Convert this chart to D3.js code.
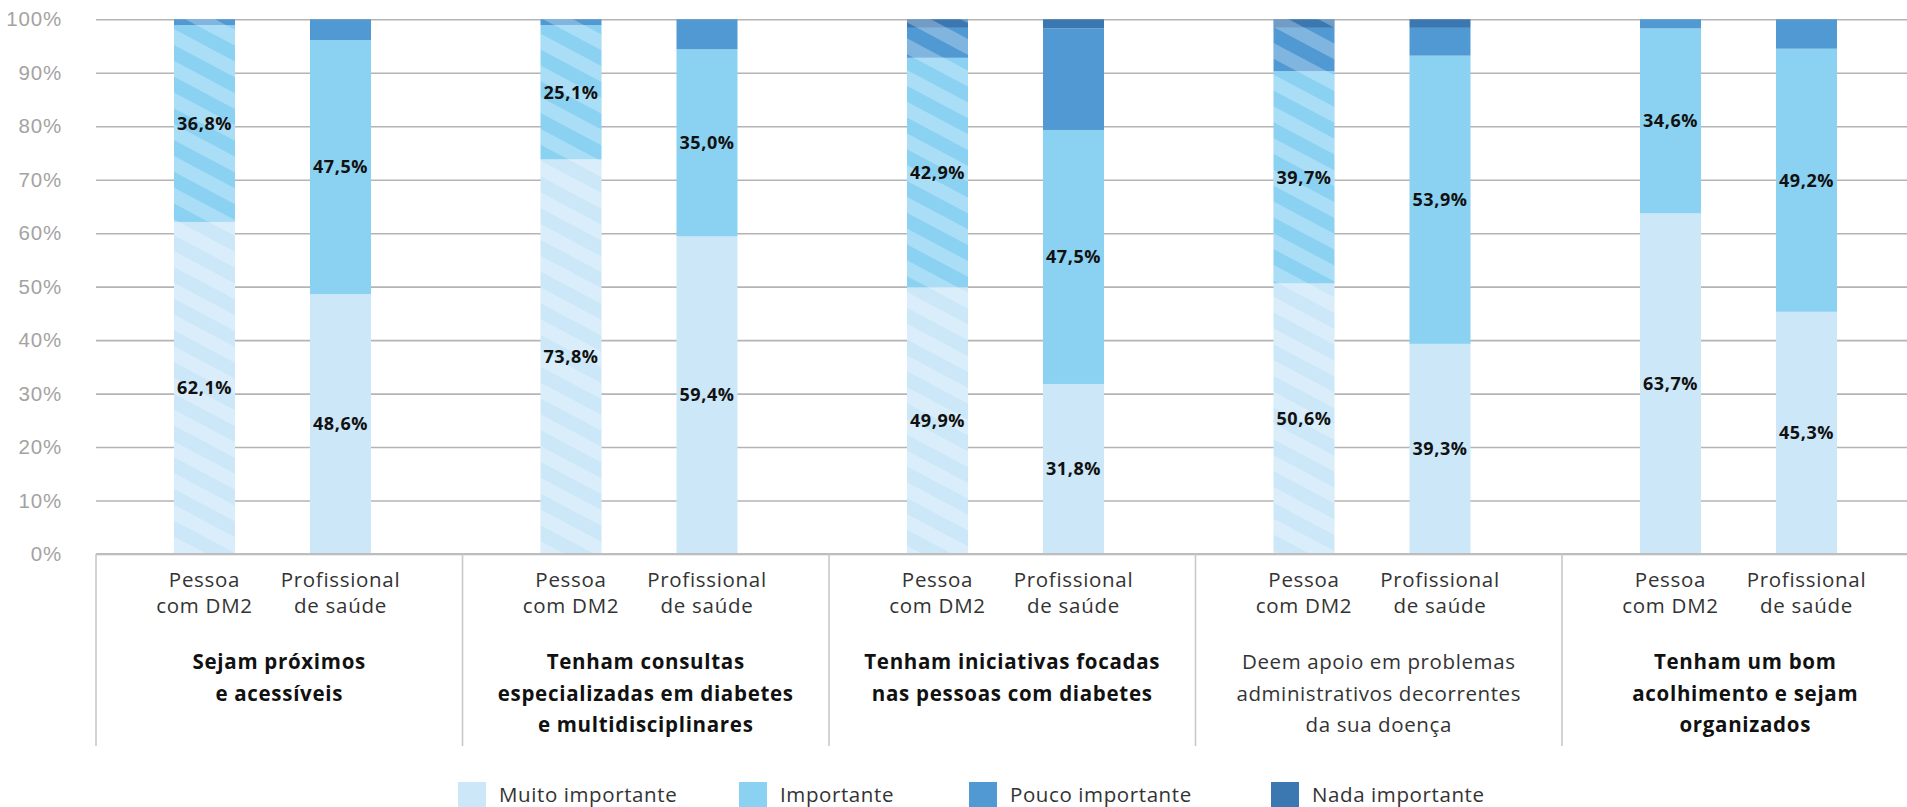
<!DOCTYPE html>
<html lang="pt">
<head>
<meta charset="utf-8">
<script src="https://cdn.jsdelivr.net/npm/d3@7"></script>
<style>
  html, body { margin: 0; padding: 0; background: #fff; overflow: hidden; }
  svg { display: block; font-family: "Open Sans", "Noto Sans", sans-serif; }
</style>
</head>
<body>
<svg id="chart" width="1907" height="807"></svg>
<script>
// Service characteristics (each entry is the lines of a multi-line title)
const groupTitles = [
  ["Sejam próximos", "e acessíveis"],
  ["Tenham consultas", "especializadas em diabetes", "e multidisciplinares"],
  ["Tenham iniciativas focadas", "nas pessoas com diabetes"],
  ["Deem apoio em problemas", "administrativos decorrentes", "da sua doença"],
  ["Tenham um bom", "acolhimento e sejam", "organizados"]
];
const groupBold = [true, true, true, false, true];

// Respondent types
const respondents = [["Pessoa", "com DM2"], ["Profissional", "de saúde"]];

// Importance levels (stack order, bottom to top)
const levels = ["Muito importante", "Importante", "Pouco importante", "Nada importante"];

// Values in %, ordered group by group: [Pessoa, Profissional, Pessoa, Profissional, ...]
const muitoImportante = [62.1, 48.6, 73.8, 59.4, 49.9, 31.8, 50.6, 39.3, 63.7, 45.3];
const importante      = [36.8, 47.5, 25.1, 35.0, 42.9, 47.5, 39.7, 53.9, 34.6, 49.2];
const poucoImportante = [1.1, 3.9, 1.1, 5.6, 5.6, 19.0, 8.1, 5.2, 1.7, 5.5];
const nadaImportante  = [0.0, 0.0, 0.0, 0.0, 1.6, 1.7, 1.6, 1.6, 0.0, 0.0];

const yTicks = [0, 10, 20, 30, 40, 50, 60, 70, 80, 90, 100];

// ---- styling ----
const colors = ["#cce7f8", "#8bd1f2", "#5199d3", "#3b77b0"];
const labelledLevels = new Set(["Muito importante", "Importante"]);
// Patient bars carry the diagonal stripe, except in the last group
const hatchedGroups = new Set([0, 1, 2, 3]);

const svg = d3.select("#chart");
const W = 1907;

const groupWidth = 366.5;
const plotLeft = 96;
const groupIdx = d3.range(groupTitles.length);

const x0 = d3.scaleBand()
  .domain(groupIdx)
  .range([plotLeft, plotLeft + groupWidth * groupIdx.length])
  .padding(0);

// Bar centre within a group
const x1 = d3.scalePoint()
  .domain([0, 1])
  .range([108.5, 244.5]);

const barWidth = 61;

const y = d3.scaleLinear().domain([0, 100]).range([554, 19.3]);

// Stripe pattern
const defs = svg.append("defs");
const pat = defs.append("pattern")
  .attr("id", "hatch")
  .attr("patternUnits", "userSpaceOnUse")
  .attr("width", 40)
  .attr("height", 28)
  .attr("patternTransform", "rotate(28)");
pat.append("rect")
  .attr("x", 0).attr("y", 0)
  .attr("width", 40).attr("height", 14)
  .attr("fill", "#fff")
  .attr("fill-opacity", 0.27);

// Gridlines and y labels
const yAxis = d3.axisLeft(y)
  .tickValues(yTicks)
  .tickSize(-(W - plotLeft))
  .tickPadding(34)
  .tickFormat(d => d + "%");

const gy = svg.append("g")
  .attr("transform", `translate(${plotLeft},0)`)
  .call(yAxis);
gy.select(".domain").remove();
gy.selectAll(".tick line")
  .attr("stroke", "#b4b4b4")
  .attr("stroke-width", 1.6);
gy.selectAll(".tick text")
  .attr("fill", "#a3a3a3")
  .attr("font-size", 20.5)
  .attr("font-weight", 300)
  .attr("letter-spacing", 0.8);

// Build rows
const series = [muitoImportante, importante, poucoImportante, nadaImportante];
const rows = [];
groupIdx.forEach(g => {
  [0, 1].forEach(r => {
    const i = g * 2 + r;
    const row = { g, r };
    levels.forEach((lv, k) => { row[lv] = series[k][i]; });
    rows.push(row);
  });
});

const stacked = d3.stack().keys(levels)(rows);

const barX = d => x0(d.data.g) + x1(d.data.r) - barWidth / 2;

const layers = svg.append("g").selectAll("g")
  .data(stacked)
  .join("g")
  .attr("fill", (d, i) => colors[i]);

layers.selectAll("rect")
  .data(d => d)
  .join("rect")
  .attr("x", barX)
  .attr("width", barWidth)
  .attr("y", d => y(d[1]))
  .attr("height", d => Math.max(0, y(d[0]) - y(d[1])));

// Stripe overlay on the patient bars
svg.append("g").selectAll("rect")
  .data(rows.filter(d => d.r === 0 && hatchedGroups.has(d.g)))
  .join("rect")
  .attr("x", d => x0(d.g) + x1(d.r) - barWidth / 2)
  .attr("width", barWidth)
  .attr("y", y(100))
  .attr("height", y(0) - y(100))
  .attr("fill", "url(#hatch)");

// Value labels
const fmt = v => v.toFixed(1).replace(".", ",") + "%";
const labelG = svg.append("g");
stacked.forEach(layer => {
  if (!labelledLevels.has(layer.key)) return;
  layer.forEach(d => {
    labelG.append("text")
      .attr("x", x0(d.data.g) + x1(d.data.r))
      .attr("y", y((d[0] + d[1]) / 2))
      .attr("dy", "0.35em")
      .attr("text-anchor", "middle")
      .attr("font-size", 18)
      .attr("font-weight", 700)
      .attr("letter-spacing", 0.6)
      .attr("fill", "#111")
      .text(fmt(d.data[layer.key]));
  });
});

// Baseline and group separators
svg.append("line")
  .attr("x1", plotLeft).attr("x2", W)
  .attr("y1", y(0)).attr("y2", y(0))
  .attr("stroke", "#bdbdbd").attr("stroke-width", 2);

svg.append("g").selectAll("line")
  .data(groupIdx)
  .join("line")
  .attr("x1", g => x0(g)).attr("x2", g => x0(g))
  .attr("y1", y(0)).attr("y2", 746)
  .attr("stroke", "#c8c8c8").attr("stroke-width", 1.6);

// Respondent labels under each bar
const subG = svg.append("g");
groupIdx.forEach(g => {
  respondents.forEach((lines, r) => {
    const t = subG.append("text")
      .attr("text-anchor", "middle")
      .attr("font-size", 20.5)
      .attr("fill", "#333")
      .attr("letter-spacing", 0.7);
    lines.forEach((ln, k) => {
      t.append("tspan")
        .attr("x", x0(g) + x1(r))
        .attr("y", 587 + k * 26)
        .text(ln);
    });
  });
});

// Group titles
const titleG = svg.append("g");
groupIdx.forEach(g => {
  const t = titleG.append("text")
    .attr("text-anchor", "middle")
    .attr("font-size", 20.5)
    .attr("font-weight", groupBold[g] ? 700 : 400)
    .attr("fill", groupBold[g] ? "#111" : "#333")
    .attr("letter-spacing", groupBold[g] ? 0.7 : 0.6);
  groupTitles[g].forEach((ln, k) => {
    t.append("tspan")
      .attr("x", x0(g) + x0.bandwidth() / 2)
      .attr("y", 669 + k * 31.5)
      .text(ln);
  });
});

// Legend
const legendX = [458, 739, 969, 1271];
const leg = svg.append("g").selectAll("g")
  .data(levels)
  .join("g")
  .attr("transform", (d, i) => `translate(${legendX[i]},782)`);
leg.append("rect")
  .attr("width", 28).attr("height", 28)
  .attr("fill", (d, i) => colors[i]);
leg.append("text")
  .attr("x", 41).attr("y", 19.5)
  .attr("font-size", 20.5)
  .attr("fill", "#333")
  .attr("letter-spacing", 0.6)
  .text(d => d);
</script>
</body>
</html>
